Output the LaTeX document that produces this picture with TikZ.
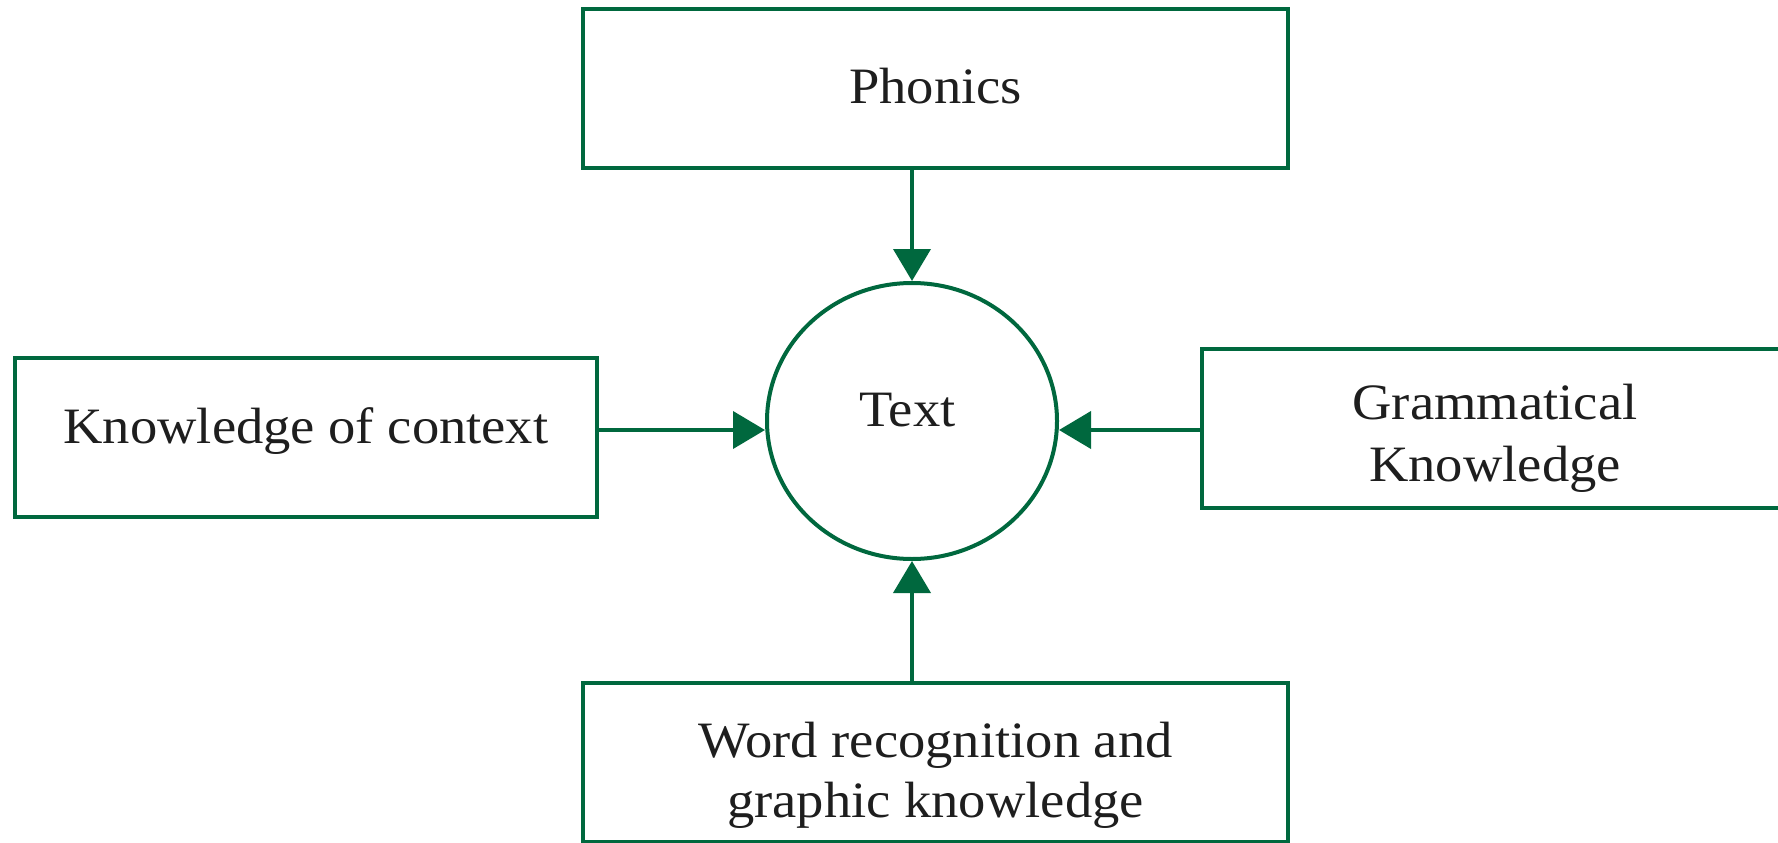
\documentclass[tikz,border=0pt]{standalone}
\usepackage{fontspec}
\setmainfont[FakeStretch=1.07]{Liberation Serif}
\usetikzlibrary{arrows.meta,shapes.geometric}
\definecolor{dgreen}{RGB}{0,104,62}
\definecolor{txtc}{RGB}{30,30,30}
\newcommand\placetxt[2]{\raisebox{#1}[0pt][0pt]{#2}}
\newcommand\twolines[3]{\vbox{\baselineskip=#1\halign{\hfil##\hfil\cr#2\cr#3\cr}}}
\tikzset{
  box/.style={draw=dgreen, line width=4pt, rectangle, inner sep=0pt, minimum height=159pt,
    text=txtc, font=\fontsize{51}{61}\selectfont},
  hub/.style={draw=dgreen, line width=4pt, ellipse, inner sep=0pt, minimum width=290pt,
    minimum height=276pt, text=txtc, font=\fontsize{51}{61}\selectfont},
  arr/.style={draw=dgreen, line width=4pt, -{Triangle[length=32pt,width=37pt]}}
}
\begin{document}
\begin{tikzpicture}[x=1pt,y=-1pt]
\useasboundingbox (0,0) rectangle (1778,843);
\clip (0,0) rectangle (1778,843);
\node[box, minimum width=705pt] (phon) at (935.5,88.5) {\placetxt{-14.5pt}{Phonics}};
\node[box, minimum width=582pt] (ctx) at (306,437.5) {\placetxt{-5.5pt}{Knowledge of context}};
\node[box, minimum width=586pt] (gram) at (1495,428.5) {\placetxt{-53pt}{\twolines{62pt}{Grammatical}{Knowledge}}};
\node[box, minimum width=705pt] (word) at (935.5,762.5) {\placetxt{-54.5pt}{\twolines{60pt}{Word recognition and}{graphic knowledge}}};
\node[hub] (txt) at (912,421) {\placetxt{-5.7pt}{\kern-9pt Text}};
\draw[arr] (txt.north |- phon.south) -- (txt.north);
\draw[arr] (txt.south |- word.north) -- (txt.south);
\draw[arr] (ctx.east |- 0,430) -- (txt.west |- 0,430);
\draw[arr] (gram.west |- 0,430) -- (txt.east |- 0,430);
\end{tikzpicture}
\end{document}
